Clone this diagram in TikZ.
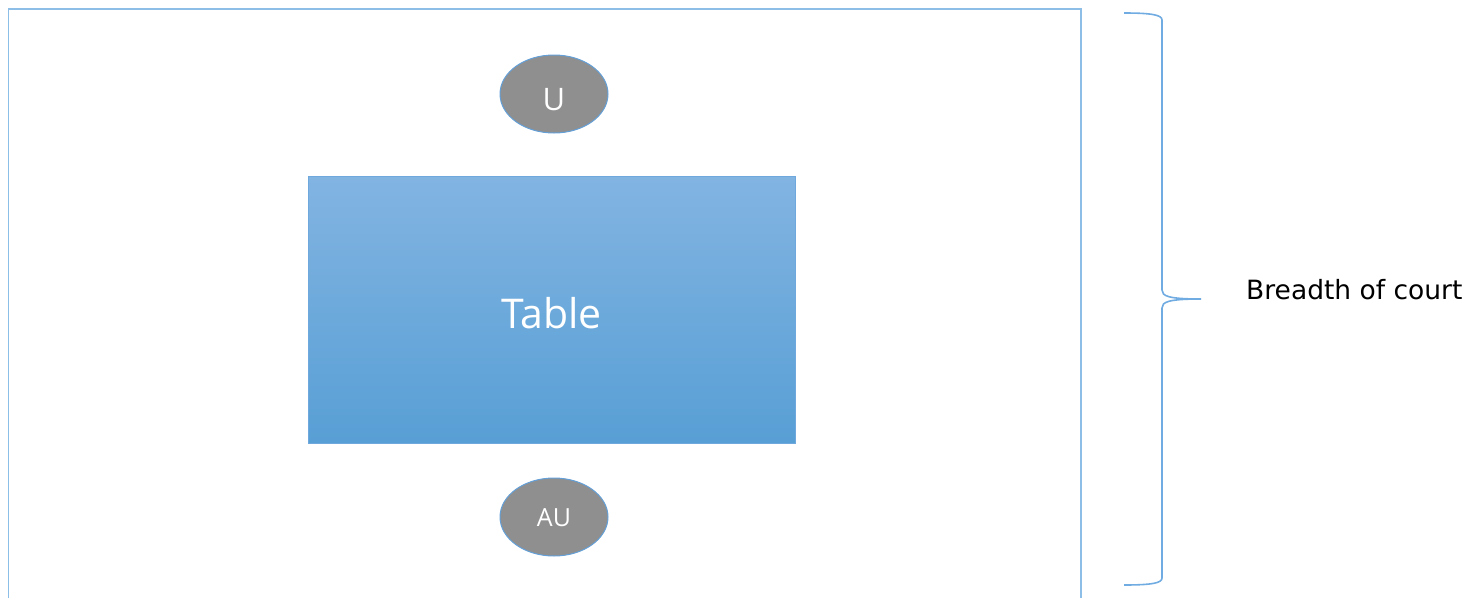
\documentclass[tikz,border=0pt]{standalone}
\usepackage{fontspec}
\newfontfamily\opensans{Open Sans}
\newfontfamily\dejavu{DejaVu Sans}
\usetikzlibrary{shapes.geometric}
\definecolor{courtline}{RGB}{140,190,232}
\definecolor{braceline}{RGB}{112,172,226}
\definecolor{playerfill}{RGB}{143,143,143}
\definecolor{playerline}{RGB}{100,160,215}
\definecolor{tabletop}{RGB}{130,180,226}
\definecolor{tablebot}{RGB}{88,159,213}
\definecolor{tableline}{RGB}{110,168,220}
\tikzset{
  player/.style={ellipse, minimum width=108pt, minimum height=78pt, inner sep=0pt,
    fill=playerfill, draw=playerline, line width=1pt},
  playertext/.style={text=white, inner sep=0pt},
  tablebox/.style={rectangle, minimum width=487pt, minimum height=267pt, inner sep=0pt,
    top color=tabletop, bottom color=tablebot, draw=tableline, line width=1pt},
  tabletext/.style={text=white, inner sep=0pt, font=\opensans\fontsize{41}{48}\selectfont},
  court/.style={draw=courtline, line width=1.5pt},
  bracestyle/.style={draw=braceline, line width=1.6pt},
  label/.style={inner sep=0pt, anchor=base west, font=\dejavu\fontsize{26.5}{32}\selectfont}
}
\begin{document}
\begin{tikzpicture}[x=1pt,y=-1pt]
\useasboundingbox (0,0) rectangle (1469,597);
\begin{scope}
  \clip (0,0) rectangle (1469,597);
  \draw[court] (8.5,9) rectangle (1081,640);
\end{scope}
\node[tablebox] (table) at (551.5,309.5) {};
\node[tabletext] (tablelabel) at (551.5,313) {Table};
\node[player] (u) at (554,94) {};
\node[playertext, font=\opensans\fontsize{31}{36}\selectfont] (ulabel) at (554,100) {U};
\node[player] (au) at (554,517) {};
\node[playertext, font=\opensans\fontsize{25}{30}\selectfont] (aulabel) at (554,518) {AU};
\draw[bracestyle] (1124,13) .. controls (1152,13) and (1162,15) .. (1162,20)
  -- (1162,290) .. controls (1162,296) and (1168,299) .. (1201,299)
  .. controls (1168,299) and (1162,302) .. (1162,308)
  -- (1162,578) .. controls (1162,583) and (1152,585) .. (1124,585);
\node[label] (breadth) at (1246,299) {Breadth of court};
\end{tikzpicture}
\end{document}
